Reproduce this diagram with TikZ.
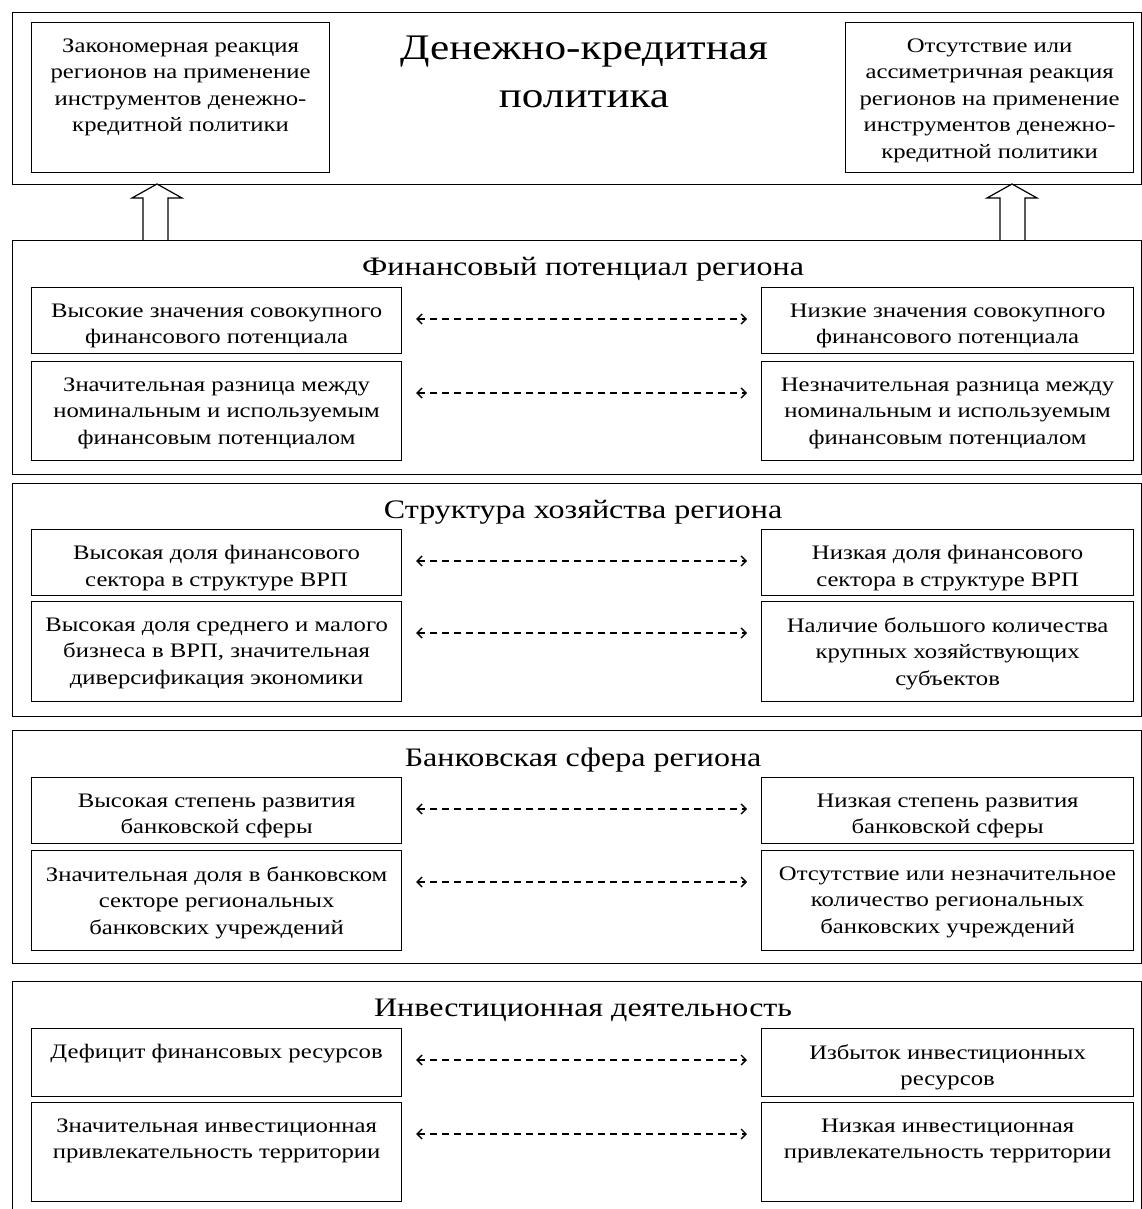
\documentclass[tikz,border=0pt]{standalone}
\usepackage{fontspec}
\setmainfont[FakeStretch=1.2]{Liberation Serif}
\usetikzlibrary{arrows.meta,positioning}

\tikzset{
  block/.style={draw, line width=1.2pt, anchor=north west, inner sep=0, minimum width=1129},
  cell/.style={draw, line width=1.2pt, anchor=north west, inner sep=0, minimum width=370,
    label={[celltext]north:#1}},
  celltext/.style={anchor=north, align=center, yshift=-13, font=\fontsize{20.6}{26.5}\selectfont},
  heading/.style={font=\fontsize{26.7}{30}\selectfont, xshift=6pt},
  dashlink/.style={line width=1.3pt, dash pattern=on 7pt off 5pt,
    {Straight Barb[length=5pt,width=10pt]}-{Straight Barb[length=5pt,width=10pt]},
    shorten <=14pt, shorten >=14pt},
  hollow/.style={line width=1.2pt, line join=miter}
}

\begin{document}
\begin{tikzpicture}[x=1pt,y=-1pt]
\useasboundingbox (0,0) rectangle (1142,1209);

% top block
\node[block, minimum height=172] (dkp) at (12,12) {};
\node[font=\fontsize{36}{48}\selectfont, align=center, anchor=north] (dkpt) at (584,32) {Денежно-кредитная\\политика};
\node[cell={Закономерная реакция\\регионов на применение\\инструментов денежно-\\кредитной политики},
  minimum width=298, minimum height=150] (zr) at (31,22) {};
\node[cell={Отсутствие или\\ассиметричная реакция\\регионов на применение\\инструментов денежно-\\кредитной политики},
  minimum width=288, minimum height=150] (or) at (845,22) {};

% sections
\node[block, minimum height=234] (fp) at (12,240) {};
\node[block, minimum height=233] (sh) at (12,483) {};
\node[block, minimum height=233] (bs) at (12,730) {};
\node[block, minimum height=232] (id) at (12,981) {};

\node[heading, below=14pt of fp.north] (fpt) {Финансовый потенциал региона};
\node[heading, below=14pt of sh.north] (sht) {Структура хозяйства региона};
\node[heading, below=14pt of bs.north] (bst) {Банковская сфера региона};
\node[heading, below=14pt of id.north] (idt) {Инвестиционная деятельность};

% Финансовый потенциал
\node[cell={Высокие значения совокупного\\финансового потенциала}, minimum height=66] (fp1) at (31,287) {};
\node[cell={Значительная разница между\\номинальным и используемым\\финансовым потенциалом}, minimum height=99] (fp2) at (31,361) {};
\node[cell={Низкие значения совокупного\\финансового потенциала}, minimum width=372, minimum height=66] (fp3) at (761,287) {};
\node[cell={Незначительная разница между\\номинальным и используемым\\финансовым потенциалом}, minimum width=372, minimum height=99] (fp4) at (761,361) {};

% Структура хозяйства
\node[cell={Высокая доля финансового\\сектора в структуре ВРП}, minimum height=66] (sh1) at (31,529) {};
\node[cell={Высокая доля среднего и малого\\бизнеса в ВРП, значительная\\диверсификация экономики}, minimum height=100] (sh2) at (31,601) {};
\node[cell={Низкая доля финансового\\сектора в структуре ВРП}, minimum width=372, minimum height=66] (sh3) at (761,529) {};
\node[cell={Наличие большого количества\\крупных хозяйствующих\\субъектов}, minimum width=372, minimum height=100] (sh4) at (761,601) {};

% Банковская сфера
\node[cell={Высокая степень развития\\банковской сферы}, minimum height=66] (bs1) at (31,777) {};
\node[cell={Значительная доля в банковском\\секторе региональных\\банковских учреждений}, minimum height=100] (bs2) at (31,850) {};
\node[cell={Низкая степень развития\\банковской сферы}, minimum width=372, minimum height=66] (bs3) at (761,777) {};
\node[cell={Отсутствие или незначительное\\количество региональных\\банковских учреждений}, minimum width=372, minimum height=100] (bs4) at (761,850) {};

% Инвестиционная деятельность
\node[cell={Дефицит финансовых ресурсов}, minimum height=68] (id1) at (31,1028) {};
\node[cell={Значительная инвестиционная\\привлекательность территории}, minimum height=99] (id2) at (31,1102) {};
\node[cell={Избыток инвестиционных\\ресурсов}, minimum width=372, minimum height=68] (id3) at (761,1028) {};
\node[cell={Низкая инвестиционная\\привлекательность территории}, minimum width=372, minimum height=99] (id4) at (761,1102) {};

% dashed links
\foreach \a/\b in {fp1/fp3, fp2/fp4, sh1/sh3, sh2/sh4, bs1/bs3, bs2/bs4, id1/id3, id2/id4}
  \draw[dashlink] ([yshift=-32pt]\a.north east) -- ([yshift=-32pt]\b.north west);

% hollow arrows up
\draw[hollow] ([xshift=131]fp.north west) -- ++(0,-42) -- ++(-11,0) -- ++(25,-14) -- ++(25,14) -- ++(-14,0) -- ++(0,42);
\draw[hollow] ([xshift=988]fp.north west) -- ++(0,-42) -- ++(-13,0) -- ++(25,-14) -- ++(25,14) -- ++(-12,0) -- ++(0,42);
\end{tikzpicture}
\end{document}
